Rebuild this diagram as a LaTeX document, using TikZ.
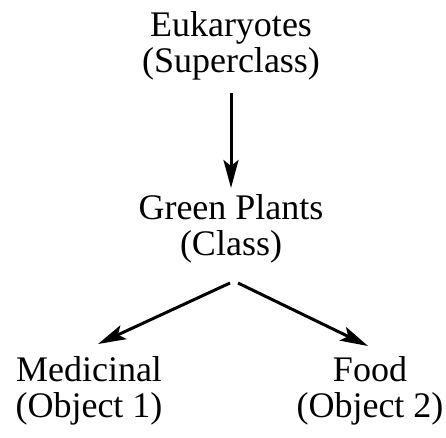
\documentclass[tikz,border=0pt]{standalone}
\usepackage{fontspec}
\setmainfont{Liberation Serif}
\usetikzlibrary{arrows.meta,calc}
\begin{document}
\begin{tikzpicture}[x=1pt,y=-1pt,
  lbl/.style={align=center,inner sep=0pt,font=\fontsize{36}{36}\selectfont},
  arr/.style={line width=3pt,-{Stealth[length=28pt,width=15pt,inset=6pt]}}]
\useasboundingbox (0,0) rectangle (446,437);
\node[lbl] (top) at (231,46) {Eukaryotes\\(Superclass)};
\node[lbl] (mid) at (231,229) {Green Plants\\(Class)};
\node[lbl] (left) at (89,391) {Medicinal\\(Object 1)};
\node[lbl] (right) at (370,391) {Food\\(Object 2)};
\draw[arr] ($(top.center)+(0,47)$) -- ($(mid.center)+(0,-41)$);
\draw[arr] ($(mid.center)+(-1,54)$) -- ($(left.center)+(9,-47)$);
\draw[arr] ($(mid.center)+(7,54)$) -- ($(right.center)+(-2,-45)$);
\end{tikzpicture}
\end{document}
